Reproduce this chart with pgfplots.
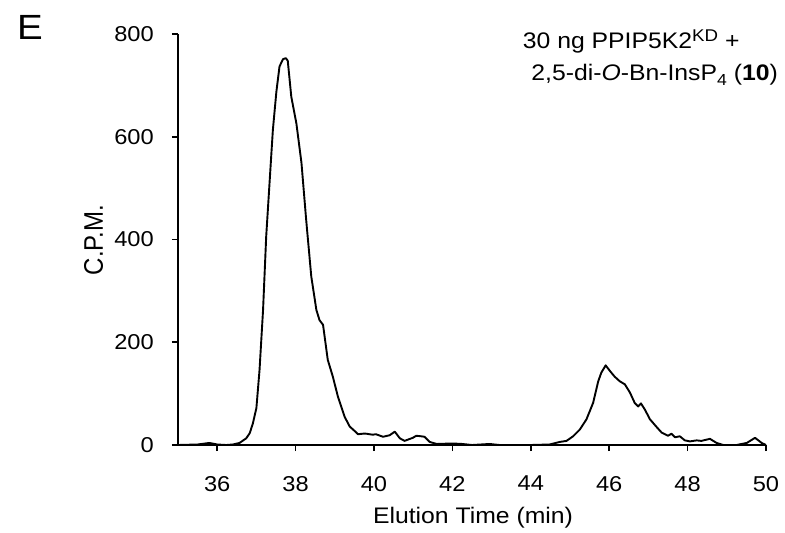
\documentclass[border=0pt]{standalone}
\usepackage{fontspec}
\setmainfont{Liberation Sans}[FakeStretch=1.1]
\newfontfamily\plainsans{Liberation Sans}
\usepackage{pgfplots}
\pgfplotsset{compat=1.18}
\begin{document}
\begin{tikzpicture}
\path[use as bounding box] (-178pt,-88pt) rectangle (607pt,445pt);
\begin{axis}[
  scale only axis, width=588pt, height=411pt,
  at={(0pt,0pt)}, anchor=south west,
  xmin=35, xmax=50, ymin=0, ymax=800,
  axis x line*=bottom, axis y line*=left,
  axis line style={-, line width=1.7pt, black},
  xtick={36,38,...,50}, ytick={0,200,...,800},
  tick align=outside, major tick length=6pt,
  tick style={line width=1.7pt, black},
  /pgf/number format/assume math mode=true,
  ticklabel style={font=\fontsize{21.5}{25}\selectfont},
  yticklabel style={anchor=east, inner sep=0pt, xshift=-18pt},
  xticklabel style={anchor=north, inner sep=0pt, yshift=-25pt},
  clip=false,
]
\addplot[black, line width=1.9pt, line join=round, mark=none] table {
35.0 0
35.5 1
35.8 4
36.0 1
36.23 0
36.4 1
36.57 4
36.74 13
36.83 23
36.91 42
37.0 72
37.08 146
37.17 263
37.25 406
37.34 516
37.42 613
37.51 688
37.59 737
37.68 751
37.75 753
37.80 748
37.89 678
38.02 626
38.15 549
38.27 438
38.40 328
38.53 263
38.61 243
38.70 234
38.82 166
38.95 133
39.08 94
39.25 55
39.38 36
39.51 27
39.59 21
39.72 22
39.80 22
39.97 20
40.05 21
40.23 16
40.40 19
40.53 26
40.66 13
40.78 8
40.99 14
41.08 18
41.20 17
41.29 16
41.42 6
41.6 2
42.0 3
42.25 2
42.5 0
42.95 2
43.2 0
43.6 0
44.0 0
44.48 1
44.74 6
44.91 8
45.08 17
45.25 30
45.42 50
45.59 82
45.72 124
45.80 141
45.91 155
46.02 144
46.14 133
46.27 124
46.40 118
46.53 102
46.65 82
46.74 75
46.81 81
46.91 69
47.04 50
47.21 35
47.34 24
47.50 18
47.59 22
47.68 15
47.80 17
47.93 9
48.06 7
48.23 9
48.35 8
48.57 12
48.74 4
48.91 0
49.25 0
49.51 4
49.72 14
49.89 4
50.0 0
};
\end{axis}
\node[anchor=base west, inner sep=0pt, font=\fontsize{35}{40}\selectfont] at (-161pt,405pt) {E};
\node[rotate=90, inner sep=0pt, font=\plainsans\fontsize{24}{28}\selectfont] at (-84.5pt,205pt) {\scalebox{1}[1.12]{C.P.M.}};
\node[anchor=base, inner sep=0pt, font=\fontsize{22.5}{26}\selectfont] at (295pt,-78pt) {Elution Time (min)};
\node[anchor=base west, inner sep=0pt, font=\fontsize{22.5}{26}\selectfont] at (344.7pt,396.7pt) {30 ng PPIP5K2\raisebox{7pt}{\fontsize{17}{20}\selectfont KD} +};
\node[anchor=base east, inner sep=0pt, font=\fontsize{22.5}{26}\selectfont] at (600pt,364.3pt) {2,5-di-\textit{O}-Bn-InsP\raisebox{-5pt}{\fontsize{16}{18}\selectfont 4} (\textbf{10})};
\end{tikzpicture}
\end{document}
